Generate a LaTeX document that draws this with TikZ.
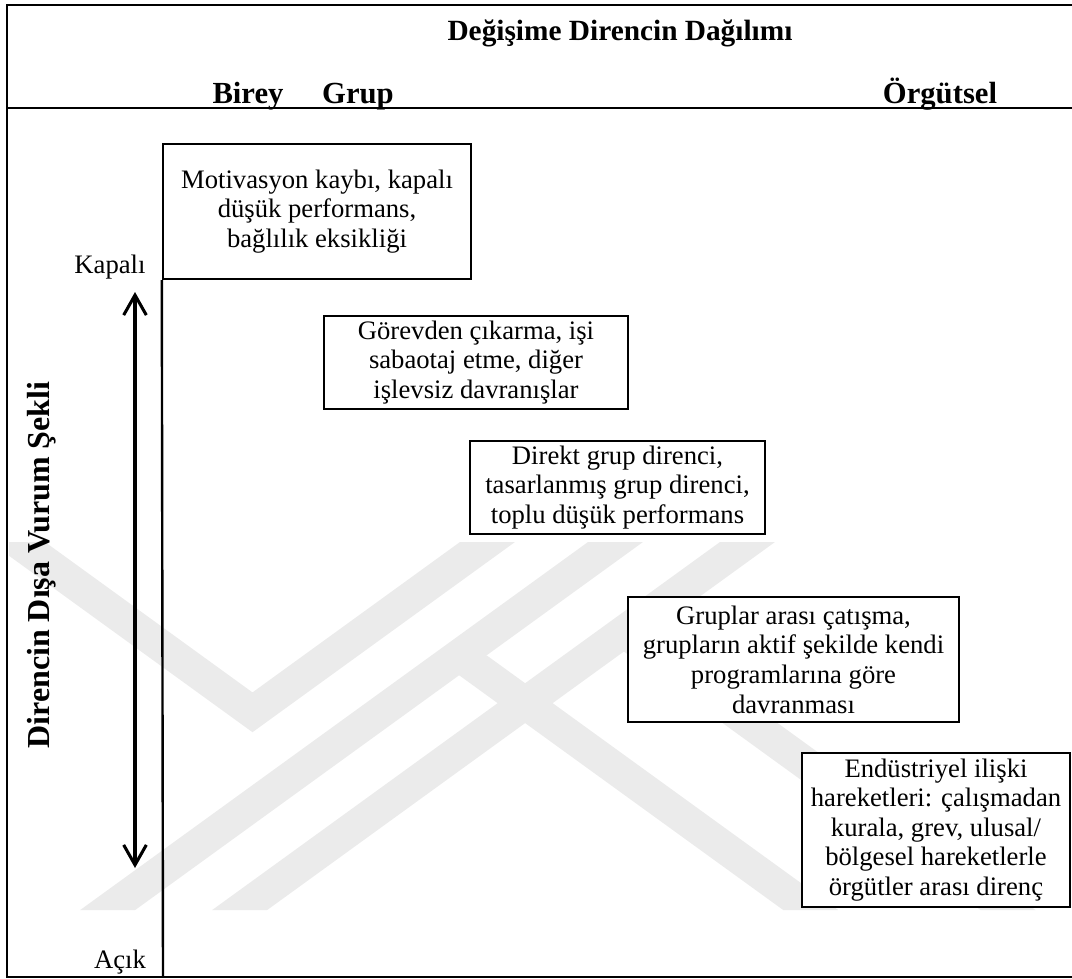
\documentclass[tikz,border=0pt]{standalone}
\usepackage{fontspec}
\setmainfont{Liberation Serif}
\usetikzlibrary{arrows.meta}
\begin{document}
\begin{tikzpicture}[x=0.75pt,y=-0.75pt,
  framerule/.style={line width=2.2pt},
  hdr/.style={font=\fontsize{23}{26}\selectfont\bfseries, inner sep=0pt},
  plain/.style={font=\fontsize{20}{22}\selectfont, inner sep=0pt},
  cell/.style n args={2}{draw, fill=white, line width=1.8pt, rectangle, inner sep=0pt,
    align=center, font=\fontsize{20}{22.2}\selectfont,
    minimum width={#1*0.75pt}, minimum height={#2*0.75pt}},
  twoway/.style={line width=2.3pt,
    {Straight Barb[length=15pt,width=17pt]}-{Straight Barb[length=15pt,width=17pt]}},
  emblem/.style={fill=black!8, draw=none}
]
\useasboundingbox (0,0) rectangle (1072,979);

% faint background emblem of slanted bands
\begin{scope}
  \clip (9,542) rectangle (1070,910);
  \fill[emblem] (-10,542) -- (45,542) -- (252.5,692.4) -- (460,542)
    -- (515,542) -- (252.5,732.2) -- cycle;
  \fill[emblem] (588,542) -- (643,542) -- (135.2,910) -- (80.2,910) -- cycle;
  \fill[emblem] (720,542) -- (775,542) -- (267.2,910) -- (212.2,910) -- cycle;
  \fill[emblem] (597,632) -- (652,632) -- (1035.5,910) -- (980.5,910) -- cycle;
  \fill[emblem] (431.6,655.3) -- (486.6,655.3) -- (838.2,910) -- (783.2,910) -- cycle;
\end{scope}

% outer frame (open on the right) and header rule
\coordinate (ftr) at (1072,5);
\coordinate (ftl) at (7,5);
\coordinate (fbl) at (7,977);
\coordinate (fbr) at (1072,977);
\coordinate (hl) at (7,108);
\coordinate (hr) at (1072,108);
\draw[framerule] (ftr) -- (ftl) -- (fbl) -- (fbr);
\draw[framerule] (hl) -- (hr);

% column headings
\node[hdr, font=\fontsize{22}{26}\selectfont\bfseries, anchor=base] (title) at (620,40) {Değişime Direncin Dağılımı};
\node[hdr, anchor=base] (birey) at (248,103) {Birey};
\node[hdr, anchor=base] (grup) at (358,103) {Grup};
\node[hdr, anchor=base] (orgut) at (940,103) {Örgütsel};

% vertical axis labels
\node[hdr, font=\fontsize{24}{26}\selectfont\bfseries, anchor=base, rotate=90] (axis) at (49,565) {Direncin Dışa Vurum Şekli};
\node[plain, anchor=base] (kapali) at (110,273) {Kapalı};
\node[plain, anchor=base] (acik) at (120,968) {Açık};

% double-headed scale arrow
\coordinate (atop) at (135,292);
\coordinate (abot) at (135,868);
\draw[twoway] (atop) -- (abot);

% staircase of resistance forms
\node[cell={308}{135}] (b1) at (317,211.5)
  {Motivasyon kaybı, kapalı\\düşük performans,\\bağlılık eksikliği};
\node[cell={304}{93}] (b2) at (476,362.5)
  {Görevden çıkarma, işi\\sabaotaj etme, diğer\\işlevsiz davranışlar};
\node[cell={295}{93}] (b3) at (617.5,487.5)
  {Direkt grup direnci,\\tasarlanmış grup direnci,\\toplu düşük performans};
\node[cell={331}{125}] (b4) at (793.5,659.5)
  {Gruplar arası çatışma,\\grupların aktif şekilde kendi\\programlarına göre\\davranması};
\node[cell={268}{154}] (b5) at (936,830)
  {Endüstriyel ilişki\\hareketleri: çalışmadan\\kurala, grev, ulusal/\\bölgesel hareketlerle\\örgütler arası direnç};

% axis line below the first box
\coordinate (vbot) at (163,977);
\draw[line width=1.8pt] (b1.south west) -- (vbot);
\end{tikzpicture}
\end{document}
